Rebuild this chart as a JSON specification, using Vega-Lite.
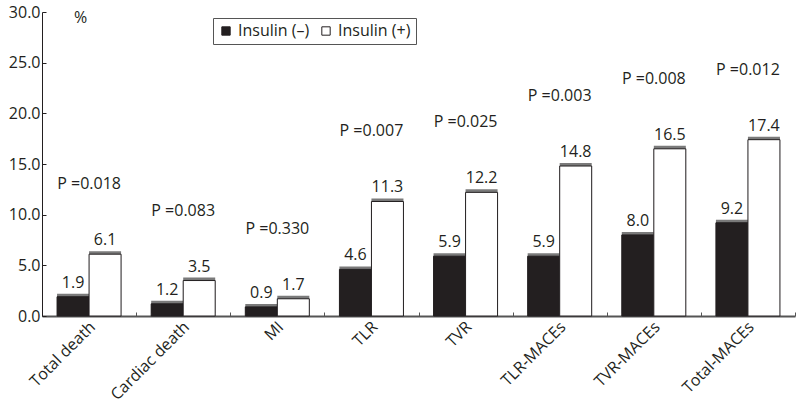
{
  "$schema": "https://vega.github.io/schema/vega-lite/v6.json",
  "width": 753,
  "height": 304,
  "autosize": {"type": "none"},
  "padding": {"left": 42, "top": 12, "right": 5, "bottom": 95},
  "config": {"font": "Open Sans", "view": {"stroke": null}},
  "data": {
    "values": [
      {"category": "Total death", "group": "Insulin (–)", "value": 1.9, "p": "P =0.018"},
      {"category": "Total death", "group": "Insulin (+)", "value": 6.1, "p": "P =0.018"},
      {"category": "Cardiac death", "group": "Insulin (–)", "value": 1.2, "p": "P =0.083"},
      {"category": "Cardiac death", "group": "Insulin (+)", "value": 3.5, "p": "P =0.083"},
      {"category": "MI", "group": "Insulin (–)", "value": 0.9, "p": "P =0.330"},
      {"category": "MI", "group": "Insulin (+)", "value": 1.7, "p": "P =0.330"},
      {"category": "TLR", "group": "Insulin (–)", "value": 4.6, "p": "P =0.007"},
      {"category": "TLR", "group": "Insulin (+)", "value": 11.3, "p": "P =0.007"},
      {"category": "TVR", "group": "Insulin (–)", "value": 5.9, "p": "P =0.025"},
      {"category": "TVR", "group": "Insulin (+)", "value": 12.2, "p": "P =0.025"},
      {"category": "TLR-MACEs", "group": "Insulin (–)", "value": 5.9, "p": "P =0.003"},
      {"category": "TLR-MACEs", "group": "Insulin (+)", "value": 14.8, "p": "P =0.003"},
      {"category": "TVR-MACEs", "group": "Insulin (–)", "value": 8.0, "p": "P =0.008"},
      {"category": "TVR-MACEs", "group": "Insulin (+)", "value": 16.5, "p": "P =0.008"},
      {"category": "Total-MACEs", "group": "Insulin (–)", "value": 9.2, "p": "P =0.012"},
      {"category": "Total-MACEs", "group": "Insulin (+)", "value": 17.4, "p": "P =0.012"}
    ]
  },
  "encoding": {
    "x": {
      "field": "category", "type": "nominal", "sort": null,
      "scale": {"paddingInner": 0, "paddingOuter": 0},
      "axis": {
        "title": null, "labelAngle": -45, "labelAlign": "right", "labelBaseline": "middle",
        "labelFontSize": 16, "labelColor": "#231f20", "labelPadding": 12, "labelOffset": 3,
        "domainColor": "#555", "domainWidth": 2, "tickBand": "extent", "tickSize": -4, "tickColor": "#555"
      }
    },
    "y": {
      "field": "value", "type": "quantitative",
      "scale": {"domain": [0, 30], "nice": false},
      "axis": {
        "values": [0, 5, 10, 15, 20, 25, 30], "format": ".1f", "grid": false,
        "labelFontSize": 16, "labelColor": "#231f20", "labelPadding": 6,
        "domainColor": "#231f20", "tickColor": "#231f20", "tickSize": -4,
        "title": "%", "titleAngle": 0, "titleX": 38, "titleY": 5, "titleAlign": "center",
        "titleBaseline": "middle", "titleFontSize": 16, "titleFontWeight": "normal", "titleColor": "#231f20"
      }
    }
  },
  "layer": [
    {
      "mark": {"type": "bar", "color": "#7a7a7a", "xOffset": 3, "yOffset": -3},
      "encoding": {
        "xOffset": {
          "field": "group", "type": "nominal", "sort": ["Insulin (–)", "Insulin (+)"],
          "scale": {"paddingOuter": 0.47, "paddingInner": 0}
        }
      }
    },
    {
      "mark": {"type": "bar", "stroke": "#231f20", "strokeWidth": 1},
      "encoding": {
        "xOffset": {"field": "group", "type": "nominal", "sort": ["Insulin (–)", "Insulin (+)"]},
        "color": {
          "field": "group", "type": "nominal",
          "scale": {"domain": ["Insulin (–)", "Insulin (+)"], "range": ["#231f20", "#ffffff"]},
          "legend": {
            "title": null, "orient": "none", "legendX": 171, "legendY": 6, "direction": "horizontal",
            "strokeColor": "#555", "padding": 5, "symbolType": "square", "symbolSize": 70,
            "symbolStrokeColor": "#231f20", "symbolStrokeWidth": 1, "labelFontSize": 16,
            "labelColor": "#231f20", "columnPadding": 8, "labelOffset": 4
          }
        }
      }
    },
    {
      "mark": {"type": "text", "dy": -14, "fontSize": 16, "color": "#231f20", "baseline": "middle"},
      "encoding": {
        "xOffset": {"field": "group", "type": "nominal", "sort": ["Insulin (–)", "Insulin (+)"]},
        "text": {"field": "value", "type": "quantitative", "format": ".1f"}
      }
    },
    {
      "transform": [{"aggregate": [{"op": "max", "field": "value", "as": "value"}], "groupby": ["category", "p"]}],
      "mark": {"type": "text", "dy": -70, "fontSize": 16, "color": "#231f20", "baseline": "middle"},
      "encoding": {
        "text": {"field": "p", "type": "nominal"}
      }
    }
  ]
}
